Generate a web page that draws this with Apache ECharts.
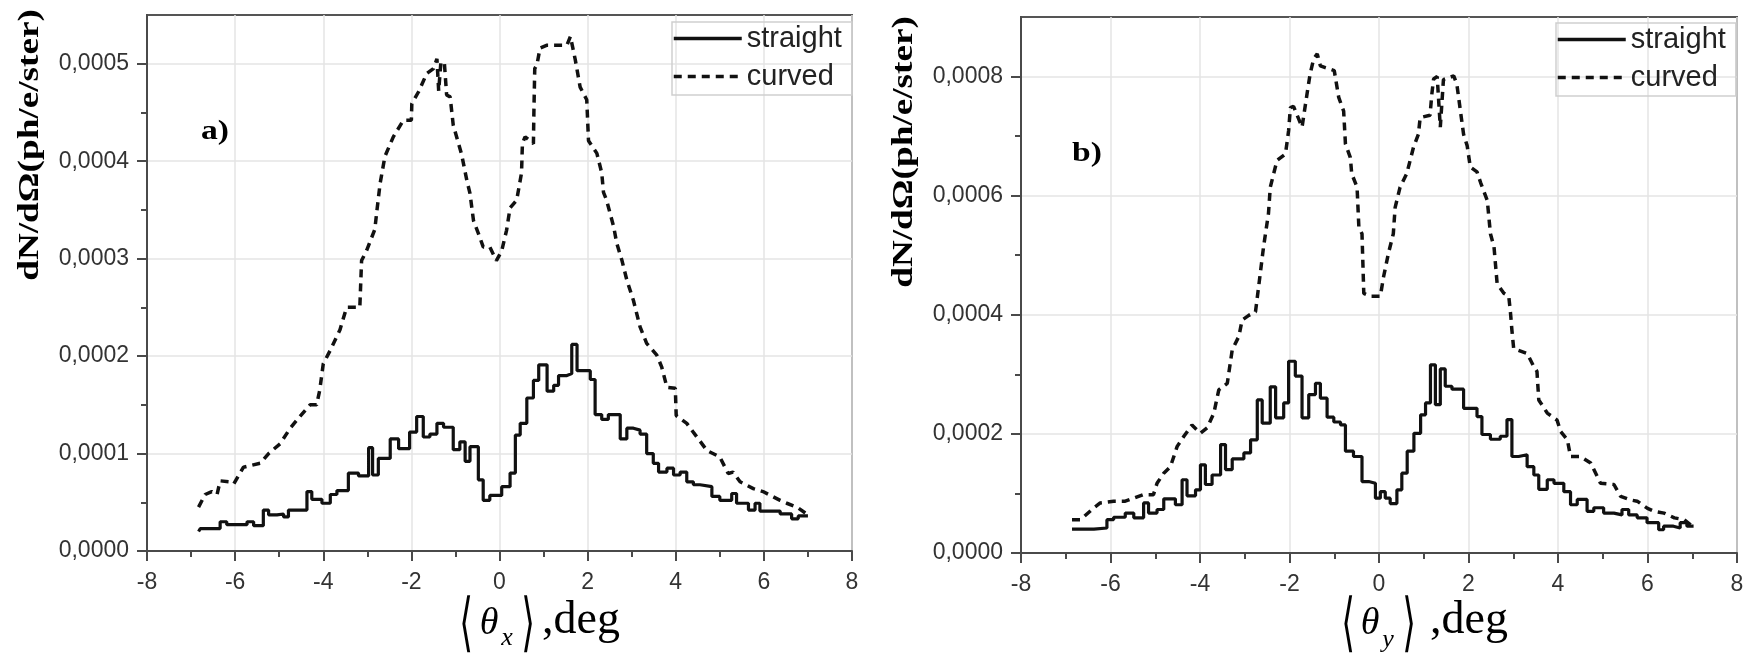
<!DOCTYPE html>
<html><head><meta charset="utf-8">
<script src="https://cdn.jsdelivr.net/npm/echarts@6/dist/echarts.min.js"></script>
<style>html,body{margin:0;padding:0;background:#fff}#c{width:1748px;height:662px}</style>
</head><body><div id="c"></div><script>
// ---- tick labels ----
const xTicks = [-8, -6, -4, -2, 0, 2, 4, 6, 8];
const yTicksA = [0, 0.0001, 0.0002, 0.0003, 0.0004, 0.0005];
const yMinorA = [0.00005, 0.00015, 0.00025, 0.00035, 0.00045];
const yTicksB = [0, 0.0002, 0.0004, 0.0006, 0.0008];
const yMinorB = [0.0001, 0.0003, 0.0005, 0.0007];
const seriesNames = ['straight', 'curved'];

// ---- panel a) straight (histogram bin start, value) ----
const aStraightX = [-6.83,-6.79,-6.34,-6.19,-5.73,-5.58,-5.36,-5.24,-5.05,-4.90,-4.79,-4.37,-4.26,-4.03,-3.84,-3.69,-3.43,-3.20,-2.97,-2.88,-2.75,-2.48,-2.29,-2.04,-1.88,-1.73,-1.58,-1.42,-1.27,-1.05,-0.90,-0.78,-0.67,-0.48,-0.37,-0.22,0.05,0.24,0.36,0.47,0.62,0.77,0.89,1.08,1.23,1.34,1.53,1.64,1.76,2.06,2.17,2.32,2.47,2.74,2.89,3.04,3.19,3.34,3.49,3.61,3.80,3.95,4.10,4.25,4.40,4.55,4.82,5.00,5.27,5.38,5.65,5.80,5.91,6.37,6.63,6.78,7.00];
const aStraightY = [0.000020,0.000023,0.000030,0.000027,0.000030,0.000026,0.000042,0.000037,0.000038,0.000035,0.000042,0.000061,0.000053,0.000049,0.000058,0.000062,0.000080,0.000077,0.000106,0.000078,0.000095,0.000115,0.000105,0.000122,0.000138,0.000117,0.000120,0.000131,0.000127,0.000104,0.000112,0.000092,0.000107,0.000073,0.000052,0.000057,0.000066,0.000080,0.000119,0.000131,0.000157,0.000175,0.000191,0.000164,0.000170,0.000180,0.000182,0.000212,0.000185,0.000176,0.000140,0.000135,0.000140,0.000115,0.000126,0.000124,0.000120,0.000100,0.000090,0.000081,0.000085,0.000078,0.000081,0.000071,0.000068,0.000066,0.000056,0.000052,0.000059,0.000049,0.000042,0.000049,0.000041,0.000038,0.000033,0.000036,0.000036];

// ---- panel a) curved ----
const aCurvedX = [-6.83,-6.68,-6.53,-6.41,-6.34,-6.11,-6.03,-5.81,-5.43,-5.24,-4.98,-4.75,-4.53,-4.30,-4.15,-4.08,-4.00,-3.84,-3.62,-3.47,-3.17,-3.13,-3.01,-2.83,-2.78,-2.71,-2.60,-2.41,-2.18,-2.00,-1.99,-1.84,-1.65,-1.50,-1.42,-1.38,-1.33,-1.25,-1.20,-1.12,-1.05,-0.86,-0.74,-0.67,-0.59,-0.48,-0.37,-0.22,-0.07,0.05,0.16,0.24,0.39,0.50,0.52,0.58,0.77,0.78,0.80,0.85,0.92,1.08,1.53,1.61,1.72,1.83,1.98,2.02,2.21,2.32,2.36,2.43,2.59,2.66,2.78,2.89,3.04,3.19,3.34,3.57,3.68,3.80,3.99,4.01,4.25,4.48,4.71,5.00,5.19,5.30,5.46,5.76,5.98,6.37,6.52,6.75,6.97];
const aCurvedY = [0.000045,0.000058,0.000061,0.000058,0.000072,0.000071,0.000069,0.000086,0.000090,0.000100,0.000110,0.000126,0.000138,0.000150,0.000150,0.000165,0.000192,0.000206,0.000227,0.000250,0.000250,0.000298,0.000309,0.000330,0.000350,0.000377,0.000405,0.000425,0.000442,0.000442,0.000459,0.000471,0.000490,0.000495,0.000505,0.000472,0.000502,0.000500,0.000468,0.000466,0.000437,0.000407,0.000380,0.000367,0.000339,0.000326,0.000312,0.000312,0.000298,0.000308,0.000329,0.000352,0.000360,0.000388,0.000418,0.000425,0.000418,0.000449,0.000495,0.000499,0.000516,0.000519,0.000519,0.000528,0.000504,0.000476,0.000463,0.000421,0.000408,0.000388,0.000368,0.000360,0.000333,0.000316,0.000298,0.000278,0.000257,0.000230,0.000213,0.000201,0.000189,0.000168,0.000167,0.000139,0.000131,0.000117,0.000103,0.0000965,0.0000795,0.000081,0.000071,0.000064,0.000061,0.000052,0.000049,0.000045,0.000038];

// ---- panel b) straight ----
const bStraightX = [-6.86,-6.37,-6.08,-5.93,-5.67,-5.48,-5.26,-5.15,-4.96,-4.81,-4.55,-4.40,-4.29,-4.10,-3.99,-3.88,-3.73,-3.54,-3.43,-3.28,-3.02,-2.87,-2.72,-2.61,-2.43,-2.31,-2.13,-2.02,-1.87,-1.72,-1.57,-1.42,-1.31,-1.16,-1.01,-0.86,-0.75,-0.57,-0.38,-0.23,-0.08,0.03,0.14,0.25,0.40,0.51,0.63,0.78,0.93,1.04,1.15,1.26,1.37,1.48,1.63,1.89,2.19,2.30,2.49,2.71,2.86,2.97,3.12,3.31,3.46,3.57,3.76,3.91,4.13,4.28,4.43,4.65,4.80,5.02,5.25,5.43,5.58,5.77,5.99,6.25,6.36,6.58,6.73,6.88,7.03];
const bStraightY = [0.000040,0.000042,0.000056,0.000060,0.000067,0.000059,0.000084,0.000067,0.000073,0.000091,0.000081,0.000123,0.000096,0.000106,0.000148,0.000115,0.000131,0.000182,0.000140,0.000158,0.000168,0.000190,0.000257,0.000218,0.000279,0.000227,0.000252,0.000322,0.000297,0.000227,0.000266,0.000285,0.000260,0.000228,0.000220,0.000215,0.000171,0.000162,0.000120,0.000117,0.000092,0.000103,0.000092,0.000083,0.000106,0.000134,0.000171,0.000201,0.000232,0.000252,0.000316,0.000249,0.000309,0.000280,0.000275,0.000243,0.000229,0.000199,0.000191,0.000196,0.000224,0.000162,0.000165,0.000145,0.000131,0.000107,0.000123,0.000117,0.000103,0.000081,0.000090,0.000070,0.000076,0.000067,0.000064,0.000073,0.000064,0.000059,0.000051,0.000039,0.000045,0.000042,0.000051,0.000045,0.000045];

// ---- panel b) curved ----
const bCurvedX = [-6.86,-6.67,-6.37,-6.23,-5.93,-5.67,-5.48,-5.26,-5.04,-4.96,-4.81,-4.66,-4.51,-4.36,-4.18,-3.99,-3.84,-3.69,-3.58,-3.39,-3.28,-3.13,-3.06,-2.91,-2.76,-2.69,-2.58,-2.47,-2.43,-2.28,-2.09,-2.02,-1.98,-1.91,-1.72,-1.61,-1.54,-1.46,-1.38,-1.31,-1.20,-1.00,-0.90,-0.79,-0.75,-0.64,-0.61,-0.49,-0.45,-0.38,-0.34,-0.19,0.03,0.10,0.21,0.32,0.36,0.47,0.62,0.77,0.88,0.92,1.14,1.18,1.22,1.30,1.37,1.44,1.67,1.74,1.82,1.89,1.97,2.04,2.19,2.27,2.42,2.49,2.57,2.64,2.79,2.90,2.94,2.97,3.01,3.31,3.46,3.53,3.57,3.76,3.98,4.06,4.21,4.28,4.50,4.73,4.88,4.95,5.25,5.40,5.62,5.77,6.00,6.15,6.37,6.60,6.82,7.00];
const bCurvedY = [0.000056,0.000056,0.000076,0.000084,0.000087,0.000087,0.000092,0.000098,0.000098,0.000117,0.000134,0.000145,0.000179,0.000196,0.000215,0.000201,0.000210,0.000235,0.000274,0.000285,0.000341,0.000364,0.000391,0.000399,0.000405,0.000447,0.000514,0.000570,0.000614,0.000659,0.000670,0.000709,0.000748,0.000750,0.000715,0.000770,0.000804,0.000830,0.000838,0.000818,0.000815,0.000810,0.000765,0.000742,0.000687,0.000664,0.000637,0.000614,0.000547,0.000536,0.000436,0.000431,0.000431,0.000463,0.000503,0.000536,0.000580,0.000614,0.000637,0.000681,0.000703,0.000731,0.000735,0.000770,0.000796,0.000800,0.000715,0.000795,0.000801,0.000787,0.000742,0.000703,0.000684,0.000648,0.000640,0.000622,0.000592,0.000536,0.000514,0.000452,0.000436,0.000431,0.000402,0.000374,0.000343,0.000335,0.000313,0.000305,0.000257,0.000235,0.000223,0.000204,0.000190,0.000162,0.000162,0.000151,0.000128,0.000117,0.000115,0.000095,0.000089,0.000087,0.000075,0.000070,0.000067,0.000059,0.000056,0.000045];

const zip = (xs, ys) => xs.map((x, i) => [x, ys[i]]);
const fmt = v => v.toFixed(4).replace('.', ',');

const AX = '#4a4a4a';
const tickFont = { fontFamily: 'Liberation Sans, Arial, sans-serif', fontSize: 23, color: '#333' };

function xAxisCfg(gi) {
  return {
    type: 'value', gridIndex: gi, min: -8, max: 8, interval: 2,
    axisLine: { show: true, onZero: false, lineStyle: { color: AX, width: 2 } },
    axisTick: { show: true, length: 10, lineStyle: { color: AX, width: 2 } },
    minorTick: { show: true, splitNumber: 2, length: 6, lineStyle: { color: AX, width: 2 } },
    axisLabel: Object.assign({ margin: 20, customValues: xTicks, formatter: v => String(v) }, tickFont),
    splitLine: { show: true, lineStyle: { color: '#e4e4e4', width: 1.5 } }
  };
}
function yAxisCfg(gi, max, ticks) {
  return {
    type: 'value', gridIndex: gi, min: 0, max: max,
    axisLine: { show: true, onZero: false, lineStyle: { color: AX, width: 2 } },
    axisTick: { show: true, length: 10, customValues: ticks, lineStyle: { color: AX, width: 2 } },
    axisLabel: Object.assign({ margin: 18, customValues: ticks, formatter: v => fmt(v) }, tickFont),
    splitLine: { show: true, lineStyle: { color: '#e4e4e4', width: 1.5 } }
  };
}
function yMinorCfg(gi, max, ticks) {
  return {
    type: 'value', gridIndex: gi, min: 0, max: max, position: 'left',
    axisLine: { show: false, onZero: false },
    axisTick: { show: true, length: 6, customValues: ticks, lineStyle: { color: AX, width: 2 } },
    axisLabel: { show: false },
    splitLine: { show: false }
  };
}
function legendCfg(left, top) {
  return {
    data: seriesNames, orient: 'vertical', left: left, top: top,
    itemWidth: 68, itemHeight: 14, itemGap: 9,
    padding: [2, 10, 4, 0],
    borderColor: '#cfcfcf', borderWidth: 1.5, selectedMode: false,
    itemStyle: { opacity: 0 },
    lineStyle: { width: 3.5 },
    textStyle: { fontFamily: 'Liberation Sans, Arial, sans-serif', fontSize: 29, color: '#222' }
  };
}
const solid = { color: '#111', width: 3.2 };
const dashed = { color: '#111', width: 3.5, type: [8, 6] };
const itemBlack = { color: '#111' };

function serifText(txt, x, y, size, weight, extra) {
  return Object.assign({
    type: 'text', x: x, y: y, silent: true,
    style: { text: txt, font: weight + ' ' + size + 'px "Liberation Serif", "Times New Roman", serif',
      fill: '#000', align: 'center', verticalAlign: 'middle' }
  }, extra || {});
}
function styled(txt, x, y, font, extra) {
  return Object.assign({
    type: 'text', x: x, y: y, silent: true,
    style: { text: txt, font: font, fill: '#000', align: 'center', verticalAlign: 'middle' }
  }, extra || {});
}
const BR = '64px "DejaVu Sans", sans-serif';

const option = {
  backgroundColor: '#fff',
  animation: false,
  grid: [
    { left: 147, top: 15, width: 705, height: 536, show: true, borderColor: '#555', borderWidth: 2 },
    { left: 1021, top: 17, width: 716, height: 536, show: true, borderColor: '#555', borderWidth: 2 }
  ],
  xAxis: [xAxisCfg(0), xAxisCfg(1)],
  yAxis: [yAxisCfg(0, 0.00055, yTicksA), yAxisCfg(1, 0.0009, yTicksB),
          yMinorCfg(0, 0.00055, yMinorA), yMinorCfg(1, 0.0009, yMinorB)],
  legend: [legendCfg(672, 22), legendCfg(1556, 23)],
  series: [
    { name: 'straight', type: 'line', xAxisIndex: 0, yAxisIndex: 0, step: 'end', symbol: 'none', itemStyle: itemBlack, lineStyle: solid, data: zip(aStraightX, aStraightY) },
    { name: 'curved', type: 'line', xAxisIndex: 0, yAxisIndex: 0, symbol: 'none', itemStyle: itemBlack, lineStyle: dashed, data: zip(aCurvedX, aCurvedY) },
    { name: 'straight', type: 'line', xAxisIndex: 1, yAxisIndex: 1, step: 'end', symbol: 'none', itemStyle: itemBlack, lineStyle: solid, data: zip(bStraightX, bStraightY) },
    { name: 'curved', type: 'line', xAxisIndex: 1, yAxisIndex: 1, symbol: 'none', itemStyle: itemBlack, lineStyle: dashed, data: zip(bCurvedX, bCurvedY) }
  ],
  graphic: [
    serifText('dN/dΩ(ph/e/ster)', 30, 145, 30, 'bold', { rotation: Math.PI / 2, scaleX: 1.24 }),
    serifText('dN/dΩ(ph/e/ster)', 904, 152, 30, 'bold', { rotation: Math.PI / 2, scaleX: 1.24 }),
    serifText('a)', 215, 132, 28, 'bold', { scaleX: 1.2 }),
    serifText('b)', 1087, 154, 28, 'bold', { scaleX: 1.2 }),
    // x-axis name a)
    styled('⟨', 466, 627, BR, { scaleX: 0.55 }),
    styled('θ', 489, 624, 'italic 38px "Liberation Serif", serif'),
    styled('x', 507, 638, 'italic 26px "Liberation Serif", serif'),
    styled('⟩', 528, 627, BR, { scaleX: 0.55 }),
    styled(',deg', 581, 621, '46px "Liberation Serif", serif'),
    // x-axis name b)
    styled('⟨', 1348, 627, BR, { scaleX: 0.55 }),
    styled('θ', 1370, 624, 'italic 38px "Liberation Serif", serif'),
    styled('y', 1388, 640, 'italic 26px "Liberation Serif", serif'),
    styled('⟩', 1409, 627, BR, { scaleX: 0.55 }),
    styled(',deg', 1469, 621, '46px "Liberation Serif", serif')
  ]
};
const chart = echarts.init(document.getElementById('c'), null, { renderer: 'canvas' });
chart.setOption(option);
</script></body></html>
